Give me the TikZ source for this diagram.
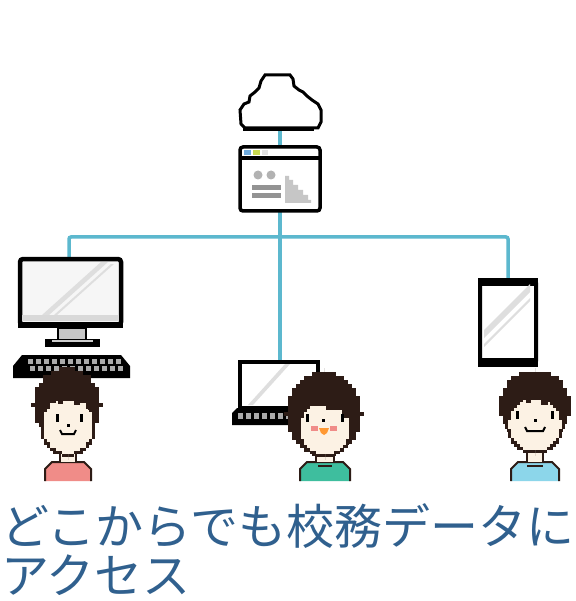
\documentclass[tikz,border=0pt]{standalone}
\usepackage{fontspec}
\newfontfamily\jpfont{Noto Sans CJK JP}
\definecolor{conn}{RGB}{92,184,206}
\definecolor{hairc}{RGB}{45,28,22}
\definecolor{skinc}{RGB}{252,242,228}
\definecolor{pinkshirt}{RGB}{240,140,136}
\definecolor{tealshirt}{RGB}{62,190,158}
\definecolor{blueshirt}{RGB}{140,214,234}
\definecolor{capblue}{RGB}{48,96,142}
\definecolor{keygray}{RGB}{170,170,170}
\definecolor{screenc}{RGB}{246,246,246}
\definecolor{shine}{RGB}{222,222,222}

% stepped (pixel-like) filled ellipse: cx, cy, rx, ry, colour, step
\newcommand\pxellipse[6]{%
  \pgfmathtruncatemacro\pxn{ceil(#4/#6)}%
  \foreach \k in {-\pxn,...,\pxn}{%
    \pgfmathsetmacro\pxy{\k*#6}%
    \pgfmathsetmacro\pxw{#3*sqrt(max(0,1-(\pxy/#4)^2))}%
    \pgfmathsetmacro\pxw{round(\pxw/#6)*#6}%
    \fill[#5] (#1-\pxw,#2+\pxy-#6/2) rectangle (#1+\pxw,#2+\pxy+#6/2+0.3);
  }}

\tikzset{
  link/.style={draw=conn, line width=3.5pt},
  frame/.style={draw=black, line width=3.5pt},
  keydot/.style={fill=keygray},
  eye/.style={fill=black},
  caption/.style={anchor=base west, inner sep=0, text=capblue,
    font=\jpfont\fontsize{48}{53}\selectfont},
}

\begin{document}
\begin{tikzpicture}[x=1pt,y=-1pt]
\useasboundingbox (0,0) rectangle (575,601);
\fill[white] (0,0) rectangle (575,601);

% ---- connection points ----
\coordinate (cloud-s) at (280,129);
\coordinate (web-n) at (280,146);
\coordinate (web-s) at (280,211);
\coordinate (hub) at (280,237);
\coordinate (pc-n) at (69,260);
\coordinate (laptop-n) at (280,362);
\coordinate (tablet-n) at (508,281);

% ---- network lines ----
\draw[link] (cloud-s) -- (web-n);
\draw[link] (web-s) -- (laptop-n);
\draw[link, rounded corners=2pt] (pc-n) |- (hub) -| (tablet-n);

% ---- cloud ----
\draw[black, line width=3pt, fill=white, line join=miter]
  (245,128) -- (241,124) -- (240,110) -- (244,104) -- (249,102) -- (250,96)
  -- (255,92) -- (259,88) -- (261,81) -- (265,75) -- (290,75) -- (293,79)
  -- (294,86) -- (299,90) -- (303,92) -- (307,96) -- (312,100) -- (318,104)
  -- (321,110) -- (321,122) -- (318,128) -- cycle;
\draw[black, line width=4pt] (243,129) -- (314,129);

% ---- web page window ----
\draw[frame, fill=white, rounded corners=3pt] (240,147) rectangle (320,211);
\fill[black] (240,156) rectangle (320,160);
\fill[fill={rgb,255:red,110;green,170;blue,220}] (244,150) rectangle (251,155);
\fill[fill={rgb,255:red,200;green,216;blue,80}] (253,150) rectangle (260,155);
\fill[fill={rgb,255:red,225;green,225;blue,225}] (262,150) rectangle (268,155);
\fill[gray!60] (258,175) circle (4.5);
\fill[gray!60] (271,175) circle (4.5);
\fill[gray!85] (252,185) rectangle (281,190);
\fill[gray!85] (252,193) rectangle (281,198);
\fill[gray!45] (285,176) -- (289,176) -- (289,180) -- (293,180) -- (293,185)
  -- (298,185) -- (298,190) -- (303,190) -- (303,195) -- (308,195) -- (308,200)
  -- (311,200) -- (311,203) -- (285,203) -- cycle;

% ---- desktop monitor ----
\draw[black, line width=4.5pt, fill=screenc, rounded corners=3pt] (20,259) rectangle (121,325);
\fill[gray!30] (22,315) rectangle (119,321);
\fill[shine] (42,315) -- (49,315) -- (108,262) -- (101,262) -- cycle;
\fill[shine] (54,315) -- (57,315) -- (114,264) -- (111,264) -- cycle;
\fill[black] (18,322) rectangle (123,328);
\draw[black, line width=2.5pt, fill=gray!45] (58,328) rectangle (86,340);
\fill[black] (45,339) rectangle (100,347);
\fill[gray!40] (52,340) rectangle (93,342);

% ---- keyboard ----
\fill[black] (22,355) -- (121,355) -- (130,366) -- (130,378) -- (13,378) -- (13,366) -- cycle;
\foreach \kx in {28,36,...,116}{
  \fill[keydot] (\kx,359) rectangle (\kx+5,364);
  \fill[keydot] (\kx+2,366) rectangle (\kx+7,371);
}

% ---- laptop ----
\draw[frame, fill=white] (240,362) rectangle (318,408);
\fill[shine] (248,405) -- (253,405) -- (290,364) -- (285,364) -- cycle;
\fill[black] (232,425) -- (232,413) -- (237,408) -- (312,408) -- (312,425) -- cycle;
\foreach \kx in {238,246,...,300}{
  \fill[keydot] (\kx,413) rectangle (\kx+5,419);
}

% ---- tablet ----
\draw[black, line width=4pt, fill=white, rounded corners=3pt] (480,280) rectangle (536,364);
\fill[black] (478,278) rectangle (538,286);
\fill[black] (478,358) rectangle (538,367);
\fill[shine] (484,330) -- (484,338) -- (530,292) -- (530,284) -- cycle;
\fill[shine] (484,344) -- (484,347) -- (530,301) -- (530,298) -- cycle;

% ---- person on the left (pink shirt) ----
\pxellipse{67}{405}{34}{37}{hairc}{4}
\draw[hairc, line width=2pt, fill=pinkshirt] (45,481) -- (45,469) -- (52,462) -- (84,462) -- (91,469) -- (91,481);
\fill[skinc] (60,448) rectangle (76,462);
\draw[hairc, line width=2pt] (60,448) -- (60,462) (76,448) -- (76,462);
\pxellipse{68}{425}{28}{31}{hairc}{3}
\pxellipse{68}{425}{25}{28}{skinc}{3}
\fill[hairc] (40,390) rectangle (96,401);
\fill[hairc] (44,401) rectangle (50,406);
\fill[hairc] (58,401) rectangle (63,404);
\fill[hairc] (74,401) rectangle (80,405);
\fill[hairc] (88,401) rectangle (96,410);
\fill[hairc] (40,401) rectangle (44,412);
\fill[eye] (56,414) rectangle (59,422);
\fill[eye] (80,414) rectangle (83,422);
\fill[eye] (67,424) rectangle (70,427);
\draw[black, line width=2pt] (60,430) -- (62,434) -- (74,434) -- (76,430);

% ---- person in the middle (teal shirt) ----
\pxellipse{324}{414}{38}{42}{hairc}{4}
\draw[hairc, line width=2pt, fill=tealshirt] (300,481) -- (300,469) -- (307,462) -- (343,462) -- (350,469) -- (350,481);
\fill[skinc] (316,450) rectangle (334,462);
\draw[hairc, line width=2pt] (316,450) -- (316,462) (334,450) -- (334,462);
\draw[hairc, line width=2pt] (318,466) -- (332,466);
\pxellipse{325}{428}{28}{29}{hairc}{3}
\pxellipse{325}{428}{25}{26}{skinc}{3}
\fill[hairc] (298,392) rectangle (352,402);
\fill[hairc] (310,402) rectangle (352,406);
\fill[hairc] (326,406) rectangle (352,410);
\fill[hairc] (342,410) rectangle (352,418);
\fill[hairc] (298,402) rectangle (302,414);
\fill[eye] (306,414) rectangle (309,422);
\fill[eye] (341,414) rectangle (344,422);
\fill[eye] (322,419) rectangle (325,422);
\fill[pinkshirt] (311,426) rectangle (318,431);
\fill[pinkshirt] (330,426) rectangle (337,431);
\fill[orange!80] (319,428) -- (329,428) -- (327,433) -- (324,435) -- (321,433) -- cycle;

% ---- person on the right (light blue shirt) ----
\pxellipse{535}{406}{36}{36}{hairc}{4}
\draw[hairc, line width=2pt, fill=blueshirt] (511,481) -- (511,469) -- (518,462) -- (552,462) -- (559,469) -- (559,481);
\fill[skinc] (527,449) rectangle (543,462);
\draw[hairc, line width=2pt] (527,449) -- (527,462) (543,449) -- (543,462);
\draw[hairc, line width=2pt] (527,466) -- (543,466);
\pxellipse{535}{424}{29}{30}{hairc}{3}
\pxellipse{535}{424}{26}{27}{skinc}{3}
\fill[hairc] (506,390) rectangle (564,400);
\fill[hairc] (512,400) rectangle (518,405);
\fill[hairc] (526,400) rectangle (531,403);
\fill[hairc] (541,400) rectangle (548,405);
\fill[hairc] (556,400) rectangle (564,410);
\fill[hairc] (506,400) rectangle (510,410);
\fill[eye] (516,411) rectangle (519,419);
\fill[eye] (551,411) rectangle (554,419);
\fill[eye] (534,419) rectangle (537,422);
\draw[black, line width=2pt] (525,427) -- (527,431) -- (543,431) -- (545,427);

% ---- caption ----
\node[caption] (caption1) at (1,544) {どこからでも校務データに};
\node[caption] (caption2) at (1,593) {アクセス};
\end{tikzpicture}
\end{document}
